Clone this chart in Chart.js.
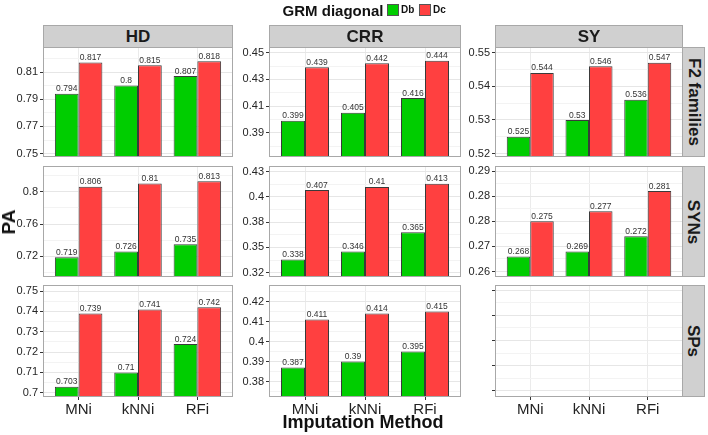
<!DOCTYPE html>
<html>
<head>
<meta charset="utf-8">
<script src="https://cdn.jsdelivr.net/npm/chart.js@4.4.1/dist/chart.umd.min.js"></script>
<style>
  body { margin: 0; background: #fff; font-family: 'Liberation Sans', Arial, sans-serif; }
  #plot { position: relative; width: 708px; height: 435px; overflow: hidden; background: #fff; }
  .cell { position: absolute; }
  .cell canvas { display: block; }
  .strip { position: absolute; background: #d0d0d0; border: 1px solid #a8a8a8; box-sizing: border-box;
           display: flex; align-items: center; justify-content: center; font-weight: bold; color: #1a1a1a;
           font-size: 17px; z-index: 2; }
  .strip.side span { transform: rotate(90deg); white-space: nowrap; }
  .lbl { position: absolute; font-weight: bold; color: #111; white-space: nowrap; z-index: 2; }
  .key { position: absolute; width: 12px; height: 12px; box-sizing: border-box; border: 1px solid #555; z-index: 2; }
</style>
</head>
<body>
<div id="plot"></div>
<script>
const methods = ['MNi', 'kNNi', 'RFi'];
const traits = ['HD', 'CRR', 'SY'];
const populations = ['F2 families', 'SYNs', 'SPs'];
const seriesNames = ['Db', 'Dc'];

// F2 families
const hdF2Db = [0.794, 0.8, 0.807];
const hdF2Dc = [0.817, 0.815, 0.818];
const crrF2Db = [0.399, 0.405, 0.416];
const crrF2Dc = [0.439, 0.442, 0.444];
const syF2Db = [0.525, 0.53, 0.536];
const syF2Dc = [0.544, 0.546, 0.547];
// SYNs
const hdSynDb = [0.719, 0.726, 0.735];
const hdSynDc = [0.806, 0.81, 0.813];
const crrSynDb = [0.338, 0.346, 0.365];
const crrSynDc = [0.407, 0.41, 0.413];
const sySynDb = [0.268, 0.269, 0.272];
const sySynDc = [0.275, 0.277, 0.281];
// SPs (no SY panel data)
const hdSpDb = [0.703, 0.71, 0.724];
const hdSpDc = [0.739, 0.741, 0.742];
const crrSpDb = [0.387, 0.39, 0.395];
const crrSpDc = [0.411, 0.414, 0.415];

// y tick values and the labels printed for them
const hdF2Ticks = [0.75, 0.77, 0.79, 0.81];
const hdF2Labels = ['0.75', '0.77', '0.79', '0.81'];
const crrF2Ticks = [0.39, 0.41, 0.43, 0.45];
const crrF2Labels = ['0.39', '0.41', '0.43', '0.45'];
const syF2Ticks = [0.52, 0.53, 0.54, 0.55];
const syF2Labels = ['0.52', '0.53', '0.54', '0.55'];
const hdSynTicks = [0.72, 0.76, 0.8];
const hdSynLabels = ['0.72', '0.76', '0.8'];
const crrSynTicks = [0.325, 0.35, 0.375, 0.4, 0.425];
const crrSynLabels = ['0.32', '0.35', '0.38', '0.4', '0.43'];
const sySynTicks = [0.265, 0.27, 0.275, 0.28, 0.285];
const sySynLabels = ['0.26', '0.27', '0.28', '0.28', '0.29'];
const hdSpTicks = [0.7, 0.71, 0.72, 0.73, 0.74, 0.75];
const hdSpLabels = ['0.7', '0.71', '0.72', '0.73', '0.74', '0.75'];
const crrSpTicks = [0.38, 0.39, 0.4, 0.41, 0.42];
const crrSpLabels = ['0.38', '0.39', '0.4', '0.41', '0.42'];
const sySpTicks = [0, 1, 2, 3, 4];
const sySpLabels = ['', '', '', '', ''];

const GREEN = '#00cd00';
const RED = '#ff4040';
const AXIS_W = 43;
const colLeft = [43, 269, 495];
const colWidth = [190, 192, 188];
const rowTop = [47, 166, 285];
const rowHeight = [110, 111, 112];

const panels = [
  { col: 0, row: 0, db: hdF2Db, dc: hdF2Dc, ticks: hdF2Ticks, labels: hdF2Labels, range: [0.7475, 0.8284] },
  { col: 1, row: 0, db: crrF2Db, dc: crrF2Dc, ticks: crrF2Ticks, labels: crrF2Labels, range: [0.372, 0.4542] },
  { col: 2, row: 0, db: syF2Db, dc: syF2Dc, ticks: syF2Ticks, labels: syF2Labels, range: [0.519, 0.5517] },
  { col: 0, row: 1, db: hdSynDb, dc: hdSynDc, ticks: hdSynTicks, labels: hdSynLabels, range: [0.6944, 0.8318] },
  { col: 1, row: 1, db: crrSynDb, dc: crrSynDc, ticks: crrSynTicks, labels: crrSynLabels, range: [0.3207, 0.4307] },
  { col: 2, row: 1, db: sySynDb, dc: sySynDc, ticks: sySynTicks, labels: sySynLabels, range: [0.2639, 0.286] },
  { col: 0, row: 2, db: hdSpDb, dc: hdSpDc, ticks: hdSpTicks, labels: hdSpLabels, range: [0.6979, 0.753] },
  { col: 1, row: 2, db: crrSpDb, dc: crrSpDc, ticks: crrSpTicks, labels: crrSpLabels, range: [0.3723, 0.4283] },
  { col: 2, row: 2, db: null, dc: null, ticks: sySpTicks, labels: sySpLabels, range: [-0.24, 4.2] }
];

const plotEl = document.getElementById('plot');

const panelDecor = {
  id: 'panelDecor',
  afterDatasetsDraw(chart) {
    const ctx = chart.ctx;
    ctx.save();
    ctx.font = '8.5px "Liberation Sans", Arial, sans-serif';
    ctx.fillStyle = '#333';
    ctx.textAlign = 'center';
    ctx.textBaseline = 'bottom';
    chart.data.datasets.forEach((ds, i) => {
      chart.getDatasetMeta(i).data.forEach((bar, j) => {
        ctx.fillText(String(ds.data[j].y), bar.x, bar.y - 0.5);
      });
    });
    ctx.restore();
  },
  afterDraw(chart) {
    const a = chart.chartArea;
    const ctx = chart.ctx;
    ctx.save();
    ctx.strokeStyle = '#a8a8a8';
    ctx.lineWidth = 1;
    ctx.strokeRect(a.left + 0.5, a.top + 0.5, a.right - a.left - 1, a.bottom - a.top - 1);
    ctx.restore();
  }
};

function yTickList(p) {
  const step = p.ticks[1] - p.ticks[0];
  const out = p.ticks.slice();
  for (let k = -1; k < p.ticks.length; k++) {
    const v = p.ticks[0] + (k + 0.5) * step;
    if (v >= p.range[0] && v <= p.range[1]) out.push(v);
  }
  return out.sort((a, b) => a - b);
}

function buildPanel(p) {
  const isBottom = p.row === 2;
  const padTop = 8;
  const padBottom = isBottom ? 0 : 8;
  const xAxisH = isBottom ? 24 : 0;
  const w = colWidth[p.col], h = rowHeight[p.row];

  const holder = document.createElement('div');
  holder.className = 'cell';
  holder.style.left = (colLeft[p.col] - AXIS_W) + 'px';
  holder.style.top = (rowTop[p.row] - padTop) + 'px';
  const canvas = document.createElement('canvas');
  canvas.width = AXIS_W + w;
  canvas.height = padTop + h + padBottom + xAxisH;
  canvas.style.width = canvas.width + 'px';
  canvas.style.height = canvas.height + 'px';
  holder.appendChild(canvas);
  plotEl.appendChild(holder);

  const isMajor = v => p.ticks.some(t => Math.abs(t - v) < 1e-9);
  const datasets = p.db ? [
    { label: seriesNames[0], data: methods.map((m, i) => ({ x: i + 1, y: p.db[i] })), backgroundColor: GREEN },
    { label: seriesNames[1], data: methods.map((m, i) => ({ x: i + 1, y: p.dc[i] })), backgroundColor: RED }
  ] : [];
  datasets.forEach(ds => {
    ds.borderColor = '#3a3a3a';
    ds.borderWidth = 1;
    ds.categoryPercentage = 0.8;
    ds.barPercentage = 1;
  });

  new Chart(canvas, {
    type: 'bar',
    data: { datasets },
    options: {
      responsive: false,
      animation: false,
      layout: { autoPadding: false, padding: { top: padTop, bottom: padBottom, left: 0, right: 0 } },
      plugins: { legend: { display: false }, tooltip: { enabled: false } },
      scales: {
        x: {
          type: 'linear',
          min: 0.4,
          max: 3.6,
          offset: false,
          border: { display: false },
          grid: { offset: false, color: '#ebebeb', drawTicks: isBottom, tickLength: 3, tickColor: '#333' },
          ticks: {
            display: isBottom,
            autoSkip: false,
            maxRotation: 0,
            padding: 1,
            color: '#222',
            font: { family: '"Liberation Sans", Arial, sans-serif', size: 15 },
            callback: v => methods[Math.round(v) - 1]
          },
          afterBuildTicks: axis => { axis.ticks = [1, 2, 3].map(v => ({ value: v })); },
          afterFit: axis => { axis.height = xAxisH; axis.paddingLeft = 0; axis.paddingRight = 0; }
        },
        y: {
          type: 'linear',
          min: p.range[0],
          max: p.range[1],
          beginAtZero: false,
          border: { display: false },
          grid: {
            color: ctx => (ctx.tick && isMajor(ctx.tick.value)) ? '#e6e6e6' : '#f3f3f3',
            tickColor: ctx => (ctx.tick && isMajor(ctx.tick.value)) ? '#333' : 'rgba(0,0,0,0)',
            tickLength: 3
          },
          ticks: {
            autoSkip: false,
            padding: 2,
            color: '#262626',
            font: { family: '"Liberation Sans", Arial, sans-serif', size: 11 },
            callback: v => {
              const i = p.ticks.findIndex(t => Math.abs(t - v) < 1e-9);
              return i >= 0 ? p.labels[i] : '';
            }
          },
          afterBuildTicks: axis => { axis.ticks = yTickList(p).map(v => ({ value: v })); },
          afterFit: axis => { axis.width = AXIS_W; axis.paddingTop = 0; axis.paddingBottom = 0; }
        }
      }
    },
    plugins: [panelDecor]
  });
}

panels.forEach(buildPanel);

// facet strips
traits.forEach((t, c) => {
  const s = document.createElement('div');
  s.className = 'strip';
  s.style.left = colLeft[c] + 'px';
  s.style.top = '25px';
  s.style.width = colWidth[c] + 'px';
  s.style.height = (rowTop[0] - 25 + 1) + 'px';
  s.textContent = t;
  plotEl.appendChild(s);
});
populations.forEach((pop, r) => {
  const s = document.createElement('div');
  s.className = 'strip side';
  s.style.left = (colLeft[2] + colWidth[2] - 1) + 'px';
  s.style.top = rowTop[r] + 'px';
  s.style.width = '23px';
  s.style.height = rowHeight[r] + 'px';
  const sp = document.createElement('span');
  sp.textContent = pop;
  s.appendChild(sp);
  plotEl.appendChild(s);
});

function addLabel(text, x, y, size, rotate) {
  const d = document.createElement('div');
  d.className = 'lbl';
  d.textContent = text;
  d.style.fontSize = size + 'px';
  d.style.left = x + 'px';
  d.style.top = y + 'px';
  d.style.transform = 'translate(-50%, -50%)' + (rotate ? ' rotate(' + rotate + 'deg)' : '');
  plotEl.appendChild(d);
  return d;
}

// axis titles
addLabel('Imputation Method', 363, 422, 18);
addLabel('PA', 9, 222, 19, -90);

// legend
const title = addLabel('GRM diagonal', 333, 10, 15);
[[GREEN, seriesNames[0], 387], [RED, seriesNames[1], 419]].forEach(([color, name, x]) => {
  const k = document.createElement('div');
  k.className = 'key';
  k.style.left = x + 'px';
  k.style.top = '4px';
  k.style.background = color;
  plotEl.appendChild(k);
  const l = document.createElement('div');
  l.className = 'lbl';
  l.style.fontSize = '10px';
  l.style.left = (x + 14) + 'px';
  l.style.top = '4px';
  l.textContent = name;
  plotEl.appendChild(l);
});
</script>
</body>
</html>
